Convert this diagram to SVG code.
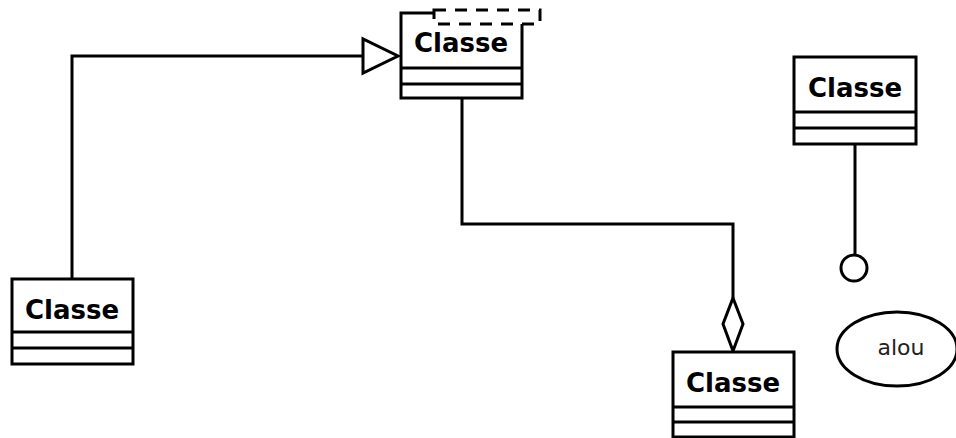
<svg xmlns="http://www.w3.org/2000/svg" width="956" height="438" viewBox="0 0 956 438">
<style>
.box{fill:#fff;stroke:#000;stroke-width:3}
.ln{fill:none;stroke:#000;stroke-width:3}
.t{font-family:"DejaVu Sans",sans-serif;font-weight:bold;font-size:26px;text-anchor:middle;fill:#000}
.lbl{font-family:"DejaVu Sans",sans-serif;font-size:22px;text-anchor:middle;fill:#222}
</style>
<rect width="956" height="438" fill="#fff"/>
<g id="connectors">
<polyline class="ln" points="72,279 72,56 363,56"/>
<polygon class="ln" points="363,39 363,73 398,56" fill="#fff"/>
<polyline class="ln" points="462,98 462,224 733,224 733,298"/>
<polygon class="ln" points="733,298 743,324 733,351 723,324" fill="#fff"/>
<line class="ln" x1="855" y1="144" x2="855" y2="254"/>
<circle class="ln" cx="854" cy="268" r="13" fill="#fff"/>
</g>
<g id="class-top">
<rect class="box" x="401" y="13" width="121" height="85"/>
<line class="ln" x1="401" y1="68" x2="522" y2="68"/>
<line class="ln" x1="401" y1="84" x2="522" y2="84"/>
<text class="t" x="461" y="52">Classe</text>
<rect x="434" y="10" width="106" height="14" fill="#fff" stroke="#000" stroke-width="3" stroke-dasharray="12,9"/>
</g>
<g id="class-right">
<rect class="box" x="794" y="57" width="122" height="87"/>
<line class="ln" x1="794" y1="112" x2="916" y2="112"/>
<line class="ln" x1="794" y1="128" x2="916" y2="128"/>
<text class="t" x="855" y="97">Classe</text>
</g>
<g id="class-left">
<rect class="box" x="12" y="279" width="121" height="85"/>
<line class="ln" x1="12" y1="332" x2="133" y2="332"/>
<line class="ln" x1="12" y1="348" x2="133" y2="348"/>
<text class="t" x="72" y="319">Classe</text>
</g>
<g id="class-bottom">
<rect class="box" x="673" y="352" width="121" height="85"/>
<line class="ln" x1="673" y1="407" x2="794" y2="407"/>
<line class="ln" x1="673" y1="422" x2="794" y2="422"/>
<text class="t" x="733" y="392">Classe</text>
</g>
<g id="usecase-alou">
<ellipse class="box" cx="897" cy="349" rx="60" ry="37"/>
<text class="lbl" x="901" y="355">alou</text>
</g>
</svg>
